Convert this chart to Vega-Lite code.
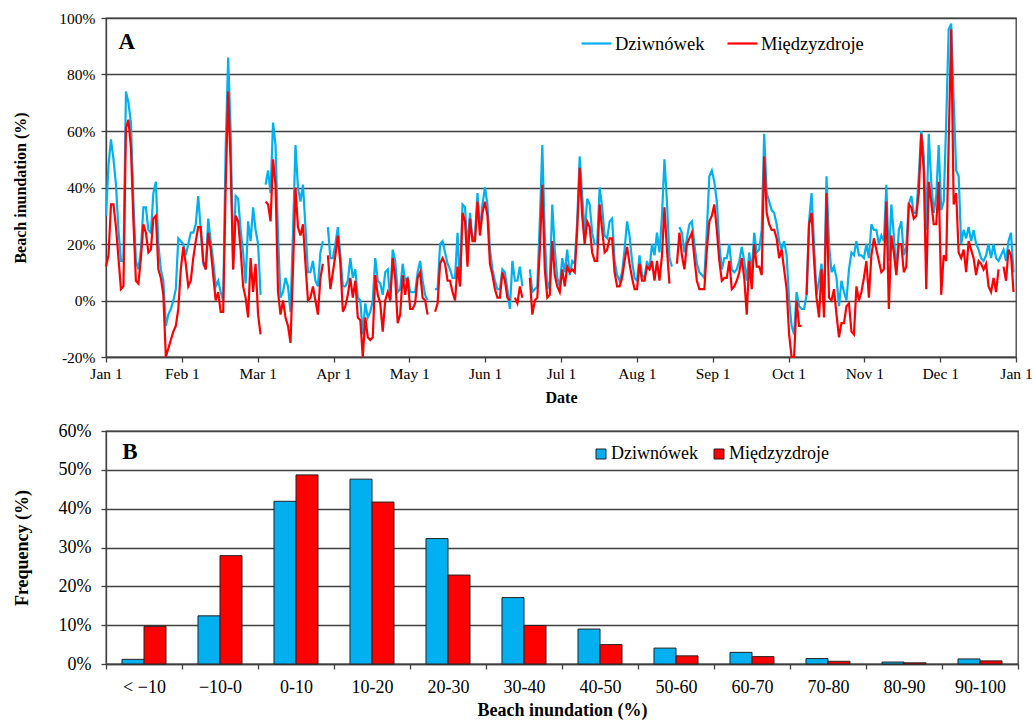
{
  "$schema": "https://vega.github.io/schema/vega-lite/v6.json",
  "background": "white",
  "padding": {"left": 12, "top": 10, "right": 10, "bottom": 0},
  "config": {
    "font": "Liberation Serif",
    "view": {"stroke": "#404040", "strokeWidth": 1.3},
    "axis": {"labelFont": "Liberation Serif", "titleFont": "Liberation Serif", "labelColor": "#000", "titleColor": "#000", "domainColor": "#404040", "tickColor": "#404040", "gridColor": "#404040", "gridWidth": 1.3, "domainWidth": 1.3, "tickWidth": 1.3, "titleFontWeight": "bold", "labelOverlap": false},
    "legend": {"labelFont": "Liberation Serif", "labelColor": "#000"}
  },
  "resolve": {"scale": {"color": "independent"}, "legend": {"color": "independent"}},
  "concat": [
    {
      "width": 910,
      "height": 339,
      "layer": [
        {
          "data": {"values": [
{"d":0,"D":30,"M":12},{"d":1,"D":48,"M":16},{"d":2,"D":57,"M":34},{"d":3,"D":50,"M":34},{"d":4,"D":41,"M":26},{"d":5,"D":25,"M":15},{"d":6,"D":14,"M":4},{"d":7,"D":14,"M":5},{"d":8,"D":74,"M":61},{"d":9,"D":70,"M":64},
{"d":10,"D":63,"M":54},{"d":11,"D":35,"M":28},{"d":12,"D":14,"M":7},{"d":13,"D":11,"M":6},{"d":14,"D":18,"M":15},{"d":15,"D":33,"M":27},{"d":16,"D":33,"M":24},{"d":17,"D":25,"M":17},{"d":18,"D":24,"M":18},{"d":19,"D":38,"M":29},
{"d":20,"D":42,"M":30},{"d":21,"D":20,"M":11},{"d":22,"D":11,"M":8},{"d":23,"D":7,"M":2},{"d":24,"D":-9,"M":-20},{"d":25,"D":-5,"M":-17},{"d":26,"D":-3,"M":-14},{"d":27,"D":0,"M":-11},{"d":28,"D":4,"M":-9},{"d":29,"D":22,"M":-3},
{"d":30,"D":21,"M":11},{"d":31,"D":20,"M":19},{"d":32,"D":16,"M":13},{"d":33,"D":20,"M":5},{"d":34,"D":24,"M":7},{"d":35,"D":24,"M":15},{"d":36,"D":27,"M":21},{"d":37,"D":37,"M":26},{"d":38,"D":25,"M":26},{"d":39,"D":13,"M":14},
{"d":40,"D":11,"M":11},{"d":41,"D":29,"M":24},{"d":42,"D":21,"M":18},{"d":43,"D":14,"M":9},{"d":44,"D":5,"M":0},{"d":45,"D":7,"M":3},{"d":46,"D":3,"M":-4},{"d":47,"D":0,"M":-4},{"d":48,"D":54,"M":40},{"d":49,"D":86,"M":74},
{"d":50,"D":60,"M":48},{"d":51,"D":11,"M":11},{"d":52,"D":37,"M":30},{"d":53,"D":36,"M":28},{"d":54,"D":25,"M":18},{"d":55,"D":17,"M":5},{"d":56,"D":6,"M":1},{"d":57,"D":28,"M":-6},{"d":58,"D":21,"M":15},{"d":59,"D":33,"M":3},
{"d":60,"D":25,"M":13},{"d":61,"D":20,"M":-5},{"d":62,"D":2,"M":-12},{"d":63,"D":null,"M":null},{"d":64,"D":41,"M":35},{"d":65,"D":46,"M":34},{"d":66,"D":38,"M":28},{"d":67,"D":63,"M":50},{"d":68,"D":55,"M":41},{"d":69,"D":23,"M":3},
{"d":70,"D":1,"M":-5},{"d":71,"D":3,"M":0},{"d":72,"D":8,"M":-6},{"d":73,"D":5,"M":-9},{"d":74,"D":-4,"M":-15},{"d":75,"D":24,"M":11},{"d":76,"D":55,"M":40},{"d":77,"D":40,"M":26},{"d":78,"D":35,"M":23},{"d":79,"D":41,"M":27},
{"d":80,"D":26,"M":13},{"d":81,"D":10,"M":0},{"d":82,"D":10,"M":1},{"d":83,"D":14,"M":5},{"d":84,"D":7,"M":0},{"d":85,"D":5,"M":-5},{"d":86,"D":17,"M":8},{"d":87,"D":21,"M":13},{"d":88,"D":null,"M":null},{"d":89,"D":26,"M":16},
{"d":90,"D":15,"M":4},{"d":91,"D":15,"M":10},{"d":92,"D":20,"M":16},{"d":93,"D":26,"M":23},{"d":94,"D":16,"M":13},{"d":95,"D":5,"M":-4},{"d":96,"D":5,"M":-2},{"d":97,"D":7,"M":2},{"d":98,"D":15,"M":8},{"d":99,"D":8,"M":1},
{"d":100,"D":11,"M":7},{"d":101,"D":1,"M":-6},{"d":102,"D":0,"M":-7},{"d":103,"D":-12,"M":-20},{"d":104,"D":-1,"M":-6},{"d":105,"D":-6,"M":-13},{"d":106,"D":-4,"M":-14},{"d":107,"D":0,"M":-13},{"d":108,"D":15,"M":9},{"d":109,"D":7,"M":2},
{"d":110,"D":6,"M":-1},{"d":111,"D":2,"M":-11},{"d":112,"D":10,"M":0},{"d":113,"D":11,"M":3},{"d":114,"D":0,"M":0},{"d":115,"D":18,"M":15},{"d":116,"D":14,"M":8},{"d":117,"D":3,"M":-8},{"d":118,"D":4,"M":-5},{"d":119,"D":13,"M":9},
{"d":120,"D":7,"M":2},{"d":121,"D":8,"M":8},{"d":122,"D":3,"M":-3},{"d":123,"D":3,"M":-3},{"d":124,"D":3,"M":-1},{"d":125,"D":10,"M":8},{"d":126,"D":14,"M":10},{"d":127,"D":7,"M":1},{"d":128,"D":2,"M":0},{"d":129,"D":0,"M":-5},
{"d":130,"D":null,"M":null},{"d":131,"D":null,"M":null},{"d":132,"D":4,"M":-4},{"d":133,"D":4,"M":-1},{"d":134,"D":20,"M":13},{"d":135,"D":21,"M":15},{"d":136,"D":17,"M":13},{"d":137,"D":13,"M":7},{"d":138,"D":11,"M":7},{"d":139,"D":8,"M":3},
{"d":140,"D":8,"M":0},{"d":141,"D":24,"M":12},{"d":142,"D":5,"M":5},{"d":143,"D":34,"M":31},{"d":144,"D":33,"M":28},{"d":145,"D":18,"M":12},{"d":146,"D":31,"M":29},{"d":147,"D":21,"M":21},{"d":148,"D":23,"M":21},{"d":149,"D":38,"M":35},
{"d":150,"D":25,"M":23},{"d":151,"D":34,"M":31},{"d":152,"D":40,"M":35},{"d":153,"D":34,"M":30},{"d":154,"D":18,"M":13},{"d":155,"D":11,"M":9},{"d":156,"D":7,"M":4},{"d":157,"D":4,"M":1},{"d":158,"D":4,"M":1},{"d":159,"D":11,"M":10},
{"d":160,"D":10,"M":7},{"d":161,"D":4,"M":1},{"d":162,"D":-3,"M":0},{"d":163,"D":14,"M":null},{"d":164,"D":7,"M":1},{"d":165,"D":7,"M":-1},{"d":166,"D":12,"M":5},{"d":167,"D":5,"M":1},{"d":168,"D":null,"M":null},{"d":169,"D":null,"M":null},
{"d":170,"D":11,"M":8},{"d":171,"D":3,"M":-5},{"d":172,"D":4,"M":0},{"d":173,"D":5,"M":1},{"d":174,"D":28,"M":18},{"d":175,"D":55,"M":41},{"d":176,"D":23,"M":11},{"d":177,"D":4,"M":1},{"d":178,"D":7,"M":2},{"d":179,"D":34,"M":21},
{"d":180,"D":18,"M":9},{"d":181,"D":8,"M":5},{"d":182,"D":5,"M":3},{"d":183,"D":15,"M":11},{"d":184,"D":10,"M":5},{"d":185,"D":18,"M":12},{"d":186,"D":9,"M":10},{"d":187,"D":14,"M":11},{"d":188,"D":13,"M":10},{"d":189,"D":28,"M":25},
{"d":190,"D":51,"M":47},{"d":191,"D":37,"M":30},{"d":192,"D":24,"M":20},{"d":193,"D":36,"M":28},{"d":194,"D":34,"M":26},{"d":195,"D":24,"M":17},{"d":196,"D":20,"M":14},{"d":197,"D":20,"M":14},{"d":198,"D":40,"M":34},{"d":199,"D":33,"M":25},
{"d":200,"D":23,"M":17},{"d":201,"D":22,"M":18},{"d":202,"D":28,"M":22},{"d":203,"D":29,"M":22},{"d":204,"D":14,"M":10},{"d":205,"D":9,"M":5},{"d":206,"D":7,"M":5},{"d":207,"D":10,"M":8},{"d":208,"D":18,"M":14},{"d":209,"D":28,"M":19},
{"d":210,"D":23,"M":13},{"d":211,"D":14,"M":8},{"d":212,"D":8,"M":4},{"d":213,"D":7,"M":4},{"d":214,"D":16,"M":13},{"d":215,"D":9,"M":7},{"d":216,"D":8,"M":7},{"d":217,"D":14,"M":12},{"d":218,"D":11,"M":11},{"d":219,"D":20,"M":14},
{"d":220,"D":16,"M":7},{"d":221,"D":24,"M":14},{"d":222,"D":17,"M":7},{"d":223,"D":30,"M":16},{"d":224,"D":50,"M":33},{"d":225,"D":35,"M":18},{"d":226,"D":15,"M":6},{"d":227,"D":12,"M":null},{"d":228,"D":null,"M":null},{"d":229,"D":null,"M":13},
{"d":230,"D":26,"M":24},{"d":231,"D":24,"M":16},{"d":232,"D":17,"M":11},{"d":233,"D":22,"M":20},{"d":234,"D":27,"M":22},{"d":235,"D":28,"M":24},{"d":236,"D":20,"M":15},{"d":237,"D":13,"M":7},{"d":238,"D":10,"M":4},{"d":239,"D":9,"M":4},
{"d":240,"D":8,"M":4},{"d":241,"D":25,"M":18},{"d":242,"D":44,"M":28},{"d":243,"D":46,"M":30},{"d":244,"D":42,"M":34},{"d":245,"D":35,"M":25},{"d":246,"D":20,"M":14},{"d":247,"D":11,"M":7},{"d":248,"D":15,"M":8},{"d":249,"D":15,"M":8},
{"d":250,"D":20,"M":14},{"d":251,"D":11,"M":4},{"d":252,"D":10,"M":5},{"d":253,"D":11,"M":7},{"d":254,"D":14,"M":10},{"d":255,"D":19,"M":15},{"d":256,"D":14,"M":8},{"d":257,"D":7,"M":-5},{"d":258,"D":17,"M":14},{"d":259,"D":10,"M":4},
{"d":260,"D":24,"M":20},{"d":261,"D":17,"M":12},{"d":262,"D":18,"M":12},{"d":263,"D":25,"M":9},{"d":264,"D":59,"M":51},{"d":265,"D":38,"M":31},{"d":266,"D":35,"M":27},{"d":267,"D":32,"M":25},{"d":268,"D":31,"M":25},{"d":269,"D":27,"M":22},
{"d":270,"D":21,"M":15},{"d":271,"D":18,"M":18},{"d":272,"D":21,"M":11},{"d":273,"D":16,"M":4},{"d":274,"D":0,"M":-12},{"d":275,"D":-9,"M":-20},{"d":276,"D":-12,"M":-20},{"d":277,"D":3,"M":0},{"d":278,"D":-2,"M":-9},{"d":279,"D":-3,"M":-9},
{"d":280,"D":-3,"M":null},{"d":281,"D":2,"M":2},{"d":282,"D":28,"M":27},{"d":283,"D":38,"M":31},{"d":284,"D":20,"M":14},{"d":285,"D":2,"M":1},{"d":286,"D":7,"M":-6},{"d":287,"D":13,"M":11},{"d":288,"D":0,"M":-6},{"d":289,"D":44,"M":38},
{"d":290,"D":20,"M":1},{"d":291,"D":10,"M":0},{"d":292,"D":12,"M":4},{"d":293,"D":8,"M":-5},{"d":294,"D":-2,"M":-13},{"d":295,"D":7,"M":-8},{"d":296,"D":3,"M":-8},{"d":297,"D":0,"M":-2},{"d":298,"D":11,"M":-1},{"d":299,"D":17,"M":-11},
{"d":300,"D":16,"M":-12},{"d":301,"D":21,"M":5},{"d":302,"D":16,"M":0},{"d":303,"D":16,"M":3},{"d":304,"D":15,"M":8},{"d":305,"D":20,"M":14},{"d":306,"D":15,"M":1},{"d":307,"D":27,"M":16},{"d":308,"D":25,"M":22},{"d":309,"D":25,"M":18},
{"d":310,"D":20,"M":14},{"d":311,"D":23,"M":10},{"d":312,"D":21,"M":11},{"d":313,"D":41,"M":35},{"d":314,"D":14,"M":-3},{"d":315,"D":34,"M":23},{"d":316,"D":23,"M":17},{"d":317,"D":10,"M":9},{"d":318,"D":25,"M":20},{"d":319,"D":28,"M":20},
{"d":320,"D":16,"M":10},{"d":321,"D":19,"M":12},{"d":322,"D":34,"M":34},{"d":323,"D":37,"M":33},{"d":324,"D":31,"M":29},{"d":325,"D":31,"M":30},{"d":326,"D":44,"M":38},{"d":327,"D":60,"M":59},{"d":328,"D":51,"M":46},{"d":329,"D":25,"M":4},
{"d":330,"D":59,"M":42},{"d":331,"D":42,"M":35},{"d":332,"D":31,"M":27},{"d":333,"D":37,"M":27},{"d":334,"D":55,"M":42},{"d":335,"D":32,"M":2},{"d":336,"D":35,"M":16},{"d":337,"D":63,"M":14},{"d":338,"D":96,"M":56},{"d":339,"D":98,"M":96},
{"d":340,"D":71,"M":34},{"d":341,"D":46,"M":38},{"d":342,"D":44,"M":17},{"d":343,"D":20,"M":15},{"d":344,"D":25,"M":18},{"d":345,"D":22,"M":10},{"d":346,"D":26,"M":21},{"d":347,"D":21,"M":18},{"d":348,"D":25,"M":15},{"d":349,"D":20,"M":9},
{"d":350,"D":18,"M":14},{"d":351,"D":15,"M":13},{"d":352,"D":14,"M":11},{"d":353,"D":16,"M":13},{"d":354,"D":20,"M":5},{"d":355,"D":15,"M":3},{"d":356,"D":20,"M":8},{"d":357,"D":15,"M":3},{"d":358,"D":14,"M":11},{"d":359,"D":16,"M":null},
{"d":360,"D":18,"M":12},{"d":361,"D":14,"M":7},{"d":362,"D":21,"M":18},{"d":363,"D":24,"M":16},{"d":364,"D":10,"M":3}
          ]},
          "transform": [{"fold": ["D", "M"], "as": ["s", "v"]}],
          "mark": {"type": "line", "strokeWidth": 2.2},
          "encoding": {
            "x": {"field": "d", "type": "quantitative",
              "scale": {"domain": [0, 365], "nice": false, "zero": false},
              "axis": {"title": "Date", "titleFontSize": 16, "titlePadding": 8, "labelFontSize": 15.5, "labelPadding": 4, "tickSize": 5, "grid": false,
                "values": [0, 30.4167, 60.8333, 91.25, 121.6667, 152.0833, 182.5, 212.9167, 243.3333, 273.75, 304.1667, 334.5833, 365],
                "labelExpr": "['Jan 1','Feb 1','Mar 1','Apr 1','May 1','Jun 1','Jul 1','Aug 1','Sep 1','Oct 1','Nov 1','Dec 1','Jan 1'][round(datum.value*12/365)]",
                "labelFlush": false}},
            "y": {"field": "v", "type": "quantitative",
              "scale": {"domain": [-20, 100], "nice": false, "zero": false},
              "axis": {"title": "Beach inundation (%)", "titleFontSize": 16, "titlePadding": 30, "labelFontSize": 15.5, "labelPadding": 6, "tickSize": 5,
                "values": [-20, 0, 20, 40, 60, 80, 100], "labelExpr": "datum.value + '%'", "grid": true}},
            "color": {"field": "s", "type": "nominal",
              "scale": {"domain": ["D", "M"], "range": ["#00B0F0", "#FF0000"]},
              "legend": {"orient": "none", "legendX": 474, "legendY": 9, "direction": "horizontal", "title": null,
                "symbolType": "stroke", "symbolSize": 900, "symbolStrokeWidth": 2.2, "labelFontSize": 18.5, "labelOffset": 2, "columnPadding": 18,
                "labelExpr": "datum.label == 'D' ? 'Dziwnówek' : 'Międzyzdroje'"}}
          }
        },
        {
          "data": {"values": [{"t": "A"}]},
          "mark": {"type": "text", "fontWeight": "bold", "fontSize": 23, "font": "Liberation Serif", "align": "center", "baseline": "middle"},
          "encoding": {"text": {"field": "t"}, "x": {"datum": 8.3, "type": "quantitative"},
            "y": {"datum": 91.5, "type": "quantitative",
              "axis": {"title": "Beach inundation (%)", "titleFontSize": 16, "titlePadding": 30, "labelFontSize": 15.5, "labelPadding": 6, "tickSize": 5,
                "values": [-20, 0, 20, 40, 60, 80, 100], "labelExpr": "datum.value + '%'", "grid": true}}}
        }
      ]
    },
    {
      "width": 912,
      "height": 233,
      "layer": [
        {
          "data": {"values": [
            {"b": "< −10", "D": 1.2, "M": 9.7},
            {"b": "−10-0", "D": 12.4, "M": 27.9},
            {"b": "0-10", "D": 41.9, "M": 48.7},
            {"b": "10-20", "D": 47.6, "M": 41.7},
            {"b": "20-30", "D": 32.3, "M": 22.9},
            {"b": "30-40", "D": 17.1, "M": 9.9},
            {"b": "40-50", "D": 9.0, "M": 5.0},
            {"b": "50-60", "D": 4.1, "M": 2.1},
            {"b": "60-70", "D": 3.0, "M": 1.9},
            {"b": "70-80", "D": 1.4, "M": 0.7},
            {"b": "80-90", "D": 0.5, "M": 0.3},
            {"b": "90-100", "D": 1.3, "M": 0.8}
          ]},
          "transform": [{"fold": ["D", "M"], "as": ["s2", "f"]}],
          "mark": {"type": "bar", "stroke": "#222", "strokeWidth": 1},
          "encoding": {
            "x": {"field": "b", "type": "nominal", "sort": null,
              "scale": {"paddingInner": 0, "paddingOuter": 0},
              "axis": {"title": "Beach inundation (%)", "titleFontSize": 18, "titlePadding": 5, "labelFontSize": 18, "labelPadding": 9, "tickSize": 5, "tickBand": "extent", "labelAngle": 0, "grid": false}},
            "xOffset": {"field": "s2", "type": "nominal", "scale": {"paddingOuter": 0.727, "paddingInner": 0}},
            "y": {"field": "f", "type": "quantitative",
              "scale": {"domain": [0, 60], "nice": false},
              "axis": {"title": "Frequency (%)", "titleFontSize": 18, "titlePadding": 27, "labelFontSize": 18, "labelPadding": 10, "tickSize": 5,
                "values": [0, 10, 20, 30, 40, 50, 60], "labelExpr": "datum.value + '%'", "grid": true}},
            "color": {"field": "s2", "type": "nominal",
              "scale": {"domain": ["D", "M"], "range": ["#00B0F0", "#FF0000"]},
              "legend": {"orient": "none", "legendX": 486, "legendY": 14, "direction": "horizontal", "title": null,
                "symbolType": "square", "symbolSize": 100, "symbolStrokeColor": "#222", "symbolStrokeWidth": 1, "labelFontSize": 18, "labelOffset": 1, "columnPadding": 12,
                "labelExpr": "datum.label == 'D' ? 'Dziwnówek' : 'Międzyzdroje'"}}
          }
        },
        {
          "data": {"values": [{"t": "B"}]},
          "mark": {"type": "text", "fontWeight": "bold", "fontSize": 23, "font": "Liberation Serif", "align": "center", "baseline": "middle", "dx": -14},
          "encoding": {"text": {"field": "t"}, "x": {"datum": "< −10", "type": "nominal"},
            "y": {"datum": 54.5, "type": "quantitative",
              "axis": {"title": "Frequency (%)", "titleFontSize": 18, "titlePadding": 27, "labelFontSize": 18, "labelPadding": 10, "tickSize": 5,
                "values": [0, 10, 20, 30, 40, 50, 60], "labelExpr": "datum.value + '%'", "grid": true}}}
        }
      ]
    }
  ],
  "columns": 1,
  "align": "none",
  "spacing": 14
}
